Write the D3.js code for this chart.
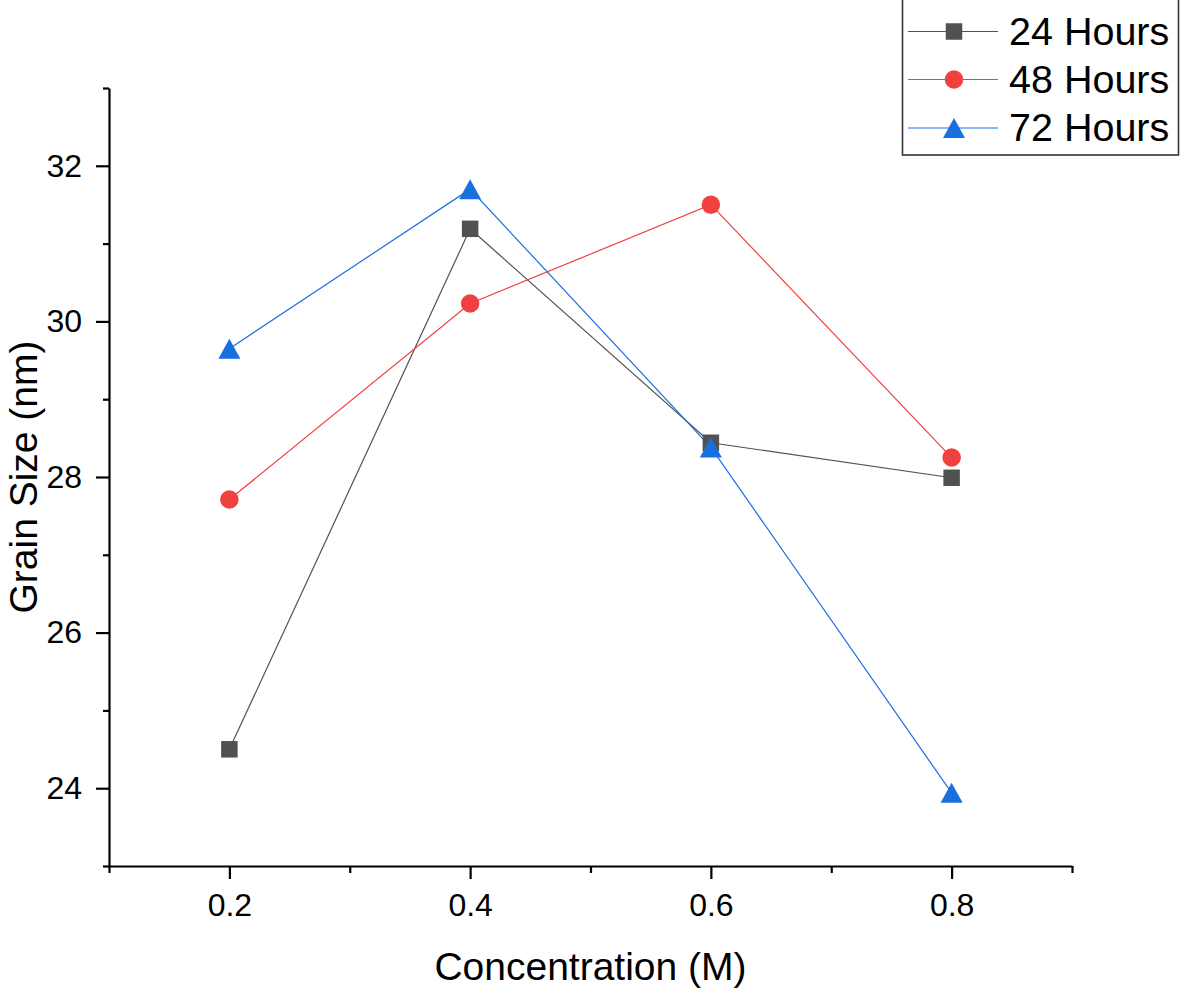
<!DOCTYPE html>
<html>
<head>
<meta charset="utf-8">
<script src="https://cdn.jsdelivr.net/npm/d3@7"></script>
<style>
  html, body { margin: 0; padding: 0; background: #fff; }
  svg { display: block; font-family: "Liberation Sans", Arial, sans-serif; }
</style>
</head>
<body>
<svg id="chart" width="1181" height="989"></svg>
<script>
const concentrations = [0.2, 0.4, 0.6, 0.8];
const seriesNames = ["24 Hours", "48 Hours", "72 Hours"];
const hours24 = [24.5, 31.19, 28.44, 27.99];
const hours48 = [27.71, 30.23, 31.5, 28.25];
const hours72 = [29.65, 31.7, 28.38, 23.94];
const seriesColors = ["#515151", "#F14040", "#1A6FDF"];
const seriesShapes = ["square", "circle", "triangle"];
const xMajorTicks = [0.2, 0.4, 0.6, 0.8];
const xMinorTicks = [0.1, 0.3, 0.5, 0.7, 0.9];
const yMajorTicks = [24, 26, 28, 30, 32];
const yMinorTicks = [23, 25, 27, 29, 31, 33];

const seriesValues = [hours24, hours48, hours72];

const svg = d3.select("#chart");
const x = d3.scaleLinear().domain([0.1, 0.9]).range([109, 1072]);
const y = d3.scaleLinear().domain([23, 33]).range([866, 88]);

function styleAxis(g) {
  g.selectAll("path.domain").attr("stroke", "#000").attr("stroke-width", 2.2);
  g.selectAll(".tick line").attr("stroke", "#000").attr("stroke-width", 2.2);
  g.selectAll(".tick text").attr("fill", "#000").style("font-size", "32px")
    .style("font-family", "'Liberation Sans', Arial, sans-serif");
}

const xAxis = svg.append("g").attr("transform", `translate(0,${y(23)})`)
  .call(d3.axisBottom(x).tickValues(xMajorTicks).tickFormat(d3.format(".1f")).tickSizeInner(13).tickSizeOuter(0).tickPadding(14));
styleAxis(xAxis);
xAxis.selectAll(".tick text").attr("dy", "0.71em");
svg.append("g").attr("transform", `translate(0,${y(23)})`)
  .call(d3.axisBottom(x).tickValues(xMinorTicks).tickFormat("").tickSizeInner(7).tickSizeOuter(0))
  .call(g => { g.select("path.domain").remove(); g.selectAll(".tick line").attr("stroke", "#000").attr("stroke-width", 2.2); });

const yAxis = svg.append("g").attr("transform", `translate(${x(0.1)},0)`)
  .call(d3.axisLeft(y).tickValues(yMajorTicks).tickFormat(d3.format("d")).tickSizeInner(13).tickSizeOuter(0).tickPadding(14));
styleAxis(yAxis);
svg.append("g").attr("transform", `translate(${x(0.1)},0)`)
  .call(d3.axisLeft(y).tickValues(yMinorTicks).tickFormat("").tickSizeInner(6).tickSizeOuter(0))
  .call(g => { g.select("path.domain").remove(); g.selectAll(".tick line").attr("stroke", "#000").attr("stroke-width", 2.2); });

svg.append("text")
  .attr("x", (x(0.1) + x(0.9)) / 2).attr("y", 980)
  .attr("text-anchor", "middle").style("font-size", "39px").attr("fill", "#000")
  .text("Concentration (M)");
svg.append("text")
  .attr("transform", `translate(37,${(y(23) + y(33)) / 2}) rotate(-90)`)
  .attr("text-anchor", "middle").style("font-size", "39px").attr("fill", "#000")
  .text("Grain Size (nm)");

function markerPath(shape) {
  if (shape === "square") return d3.symbol(d3.symbolSquare, 272)();
  if (shape === "circle") return d3.symbol(d3.symbolCircle, 270)();
  return "M0,-10L11,10L-11,10Z";
}

const line = d3.line().x(d => x(d[0])).y(d => y(d[1]));

seriesValues.forEach((vals, i) => {
  const pts = concentrations.map((c, j) => [c, vals[j]]);
  svg.append("path").datum(pts)
    .attr("d", line).attr("fill", "none")
    .attr("stroke", seriesColors[i]).attr("stroke-width", 1.2);
});
seriesValues.forEach((vals, i) => {
  const pts = concentrations.map((c, j) => [c, vals[j]]);
  svg.append("g").selectAll("path").data(pts).join("path")
    .attr("transform", d => `translate(${x(d[0])},${y(d[1])})`)
    .attr("d", markerPath(seriesShapes[i]))
    .attr("fill", seriesColors[i]);
});

const legend = svg.append("g");
legend.append("rect").attr("x", 902.5).attr("y", -1).attr("width", 276).attr("height", 156)
  .attr("fill", "#fff").attr("stroke", "#333").attr("stroke-width", 1.6);
const rowY = [31.5, 79.5, 128];
seriesNames.forEach((name, i) => {
  const g = legend.append("g");
  g.append("line").attr("x1", 908).attr("x2", 998).attr("y1", rowY[i]).attr("y2", rowY[i])
    .attr("stroke", seriesColors[i]).attr("stroke-width", 1.2);
  g.append("path").attr("transform", `translate(954,${rowY[i]})`)
    .attr("d", markerPath(seriesShapes[i])).attr("fill", seriesColors[i]);
  g.append("text").attr("x", 1009).attr("y", rowY[i] + 13)
    .style("font-size", "39.5px").attr("fill", "#000").text(name);
});
</script>
</body>
</html>
